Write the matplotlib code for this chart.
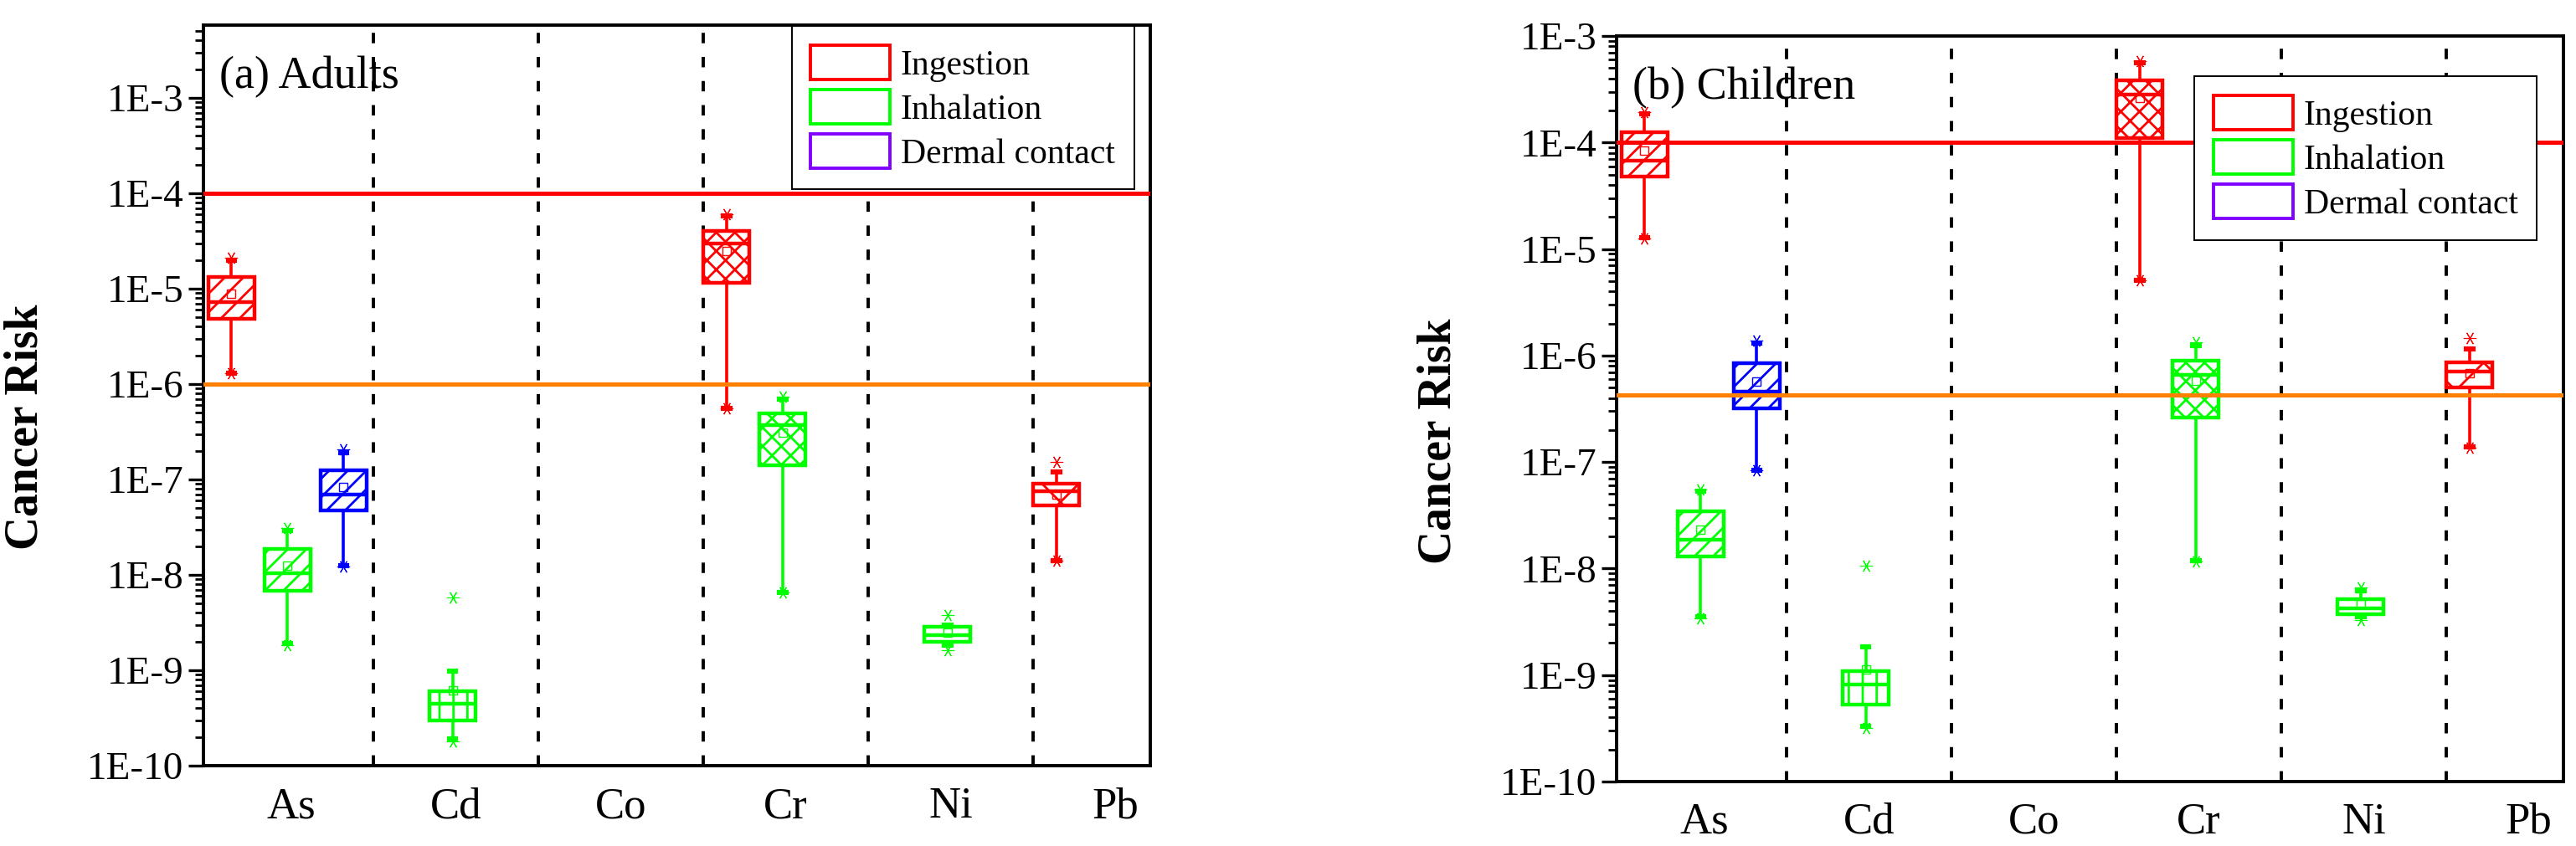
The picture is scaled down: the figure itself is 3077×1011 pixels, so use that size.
import numpy as np
import matplotlib
matplotlib.use("Agg")
import matplotlib.pyplot as plt
from matplotlib.patches import Patch
from matplotlib.ticker import LogLocator, FuncFormatter, NullFormatter

plt.rcParams['font.family'] = ['Liberation Serif', 'DejaVu Serif']
plt.rcParams['hatch.linewidth'] = 1.0

elements = ['As', 'Cd', 'Co', 'Cr', 'Ni', 'Pb']
hatches = {'As': '///', 'Cd': '||', 'Co': '', 'Cr': 'xxx', 'Ni': '', 'Pb': 'x'}
pathways = ['Ingestion', 'Inhalation', 'Dermal contact']

# (a) adults - ingestion
ad_ing_el = ['As', 'Cr', 'Pb']
ad_ing_lo = [1.31e-6, 5.6e-7, 1.42e-8]
ad_ing_q1 = [4.86e-6, 1.16e-5, 5.3e-8]
ad_ing_med = [7.3e-6, 2.95e-5, 7.6e-8]
ad_ing_mean = [8.8e-6, 2.5e-5, 6.9e-8]
ad_ing_q3 = [1.34e-5, 4.06e-5, 9.0e-8]
ad_ing_hi = [2.0e-5, 5.8e-5, 1.2e-7]
ad_ing_x = [[1.31e-6, 2.1e-5], [5.6e-7, 6.0e-5], [1.42e-8, 1.52e-7]]
# (a) adults - inhalation
ad_inh_el = ['As', 'Cd', 'Cr', 'Ni']
ad_inh_lo = [1.9e-9, 1.9e-10, 6.5e-9, 1.82e-9]
ad_inh_q1 = [6.8e-9, 2.95e-10, 1.42e-7, 2.0e-9]
ad_inh_med = [1.05e-8, 4.5e-10, 3.7e-7, 2.34e-9]
ad_inh_mean = [1.26e-8, 6.1e-10, 3.1e-7, 2.5e-9]
ad_inh_q3 = [1.88e-8, 6.0e-10, 4.95e-7, 2.88e-9]
ad_inh_hi = [2.9e-8, 9.9e-10, 7.0e-7, 2.95e-9]
ad_inh_x = [[1.85e-9, 3.1e-8], [1.78e-10, 5.8e-9], [6.5e-9, 7.4e-7], [1.64e-9, 3.8e-9]]
# (a) adults - dermal
ad_der_el = ['As']
ad_der_lo = [1.26e-8]
ad_der_q1 = [4.77e-8]
ad_der_med = [6.9e-8]
ad_der_mean = [8.4e-8]
ad_der_q3 = [1.25e-7]
ad_der_hi = [1.9e-7]
ad_der_x = [[1.22e-8, 2.05e-7]]

# (b) children - ingestion
ch_ing_el = ['As', 'Cr', 'Pb']
ch_ing_lo = [1.27e-5, 5.1e-6, 1.38e-7]
ch_ing_q1 = [4.76e-5, 1.1e-4, 5.06e-7]
ch_ing_med = [6.76e-5, 2.82e-4, 7.1e-7]
ch_ing_mean = [8.4e-5, 2.6e-4, 6.8e-7]
ch_ing_q3 = [1.26e-4, 3.8e-4, 8.7e-7]
ch_ing_hi = [1.85e-4, 5.6e-4, 1.15e-6]
ch_ing_x = [[1.25e-5, 1.94e-4], [5.1e-6, 5.8e-4], [1.36e-7, 1.47e-6]]
# (b) children - inhalation
ch_inh_el = ['As', 'Cd', 'Cr', 'Ni']
ch_inh_lo = [3.5e-9, 3.3e-10, 1.19e-8, 3.5e-9]
ch_inh_q1 = [1.31e-8, 5.3e-10, 2.6e-7, 3.7e-9]
ch_inh_med = [1.88e-8, 8.15e-10, 6.6e-7, 4.25e-9]
ch_inh_mean = [2.32e-8, 1.12e-9, 5.8e-7, 4.6e-9]
ch_inh_q3 = [3.46e-8, 1.08e-9, 8.9e-7, 5.2e-9]
ch_inh_hi = [5.3e-8, 1.83e-9, 1.25e-6, 6.2e-9]
ch_inh_x = [[3.4e-9, 5.5e-8], [3.2e-10, 1.07e-8], [1.17e-8, 1.34e-6], [3.3e-9, 6.6e-9]]
# (b) children - dermal
ch_der_el = ['As']
ch_der_lo = [8.4e-8]
ch_der_q1 = [3.2e-7]
ch_der_med = [4.55e-7]
ch_der_mean = [5.7e-7]
ch_der_q3 = [8.4e-7]
ch_der_hi = [1.3e-6]
ch_der_x = [[8.3e-8, 1.37e-6]]

# reference risk lines
ad_lines = [1e-4, 1.0e-6]
ch_lines = [1e-4, 4.25e-7]

# y tick decades
decades = [-10, -9, -8, -7, -6, -5, -4, -3]

box_colors = ['#ff0000', '#00ff00', '#0000ff']
legend_colors = ['#ff0000', '#00ff00', '#8000ff']
offsets = [-0.36, -0.02, 0.32]


def draw_boxes(ax, el, lo, q1, med, mean, q3, hi, xs, color, off):
    stats = [dict(whislo=a, q1=b, med=c, mean=d, q3=e, whishi=f, fliers=g)
             for a, b, c, d, e, f, g in zip(lo, q1, med, mean, q3, hi, xs)]
    pos = [elements.index(e) + 1 + off for e in el]
    bp = ax.bxp(stats, positions=pos, widths=0.28, patch_artist=True, showmeans=True,
                capwidths=0.04, manage_ticks=False,
                boxprops=dict(facecolor='white', edgecolor=color, linewidth=1.6),
                whiskerprops=dict(color=color, linewidth=1.3),
                capprops=dict(color=color, linewidth=2.2),
                medianprops=dict(color=color, linewidth=1.6),
                meanprops=dict(marker='s', markersize=3.5, markerfacecolor='none',
                               markeredgecolor=color, markeredgewidth=0.5),
                flierprops=dict(marker=(6, 2, 90), markersize=5.5, markeredgecolor=color,
                                markeredgewidth=0.4, linestyle='none'))
    for patch, e in zip(bp['boxes'], el):
        patch.set_hatch(hatches[e])


def style_panel(ax, ylim, lines, tag, leg_anchor):
    ax.set_yscale('log')
    ax.set_ylim(*ylim)
    ax.set_xlim(0.47, 6.21)
    for k in range(1, 6):
        ax.axvline(k + 0.5, color='black', linewidth=1.4, linestyle=(0, (3.2, 4.2)), zorder=1)
    ax.axhline(lines[0], color='#ff0000', linewidth=1.8, zorder=3)
    ax.axhline(lines[1], color='#ff8000', linewidth=1.8, zorder=3)

    ax.set_xticks(range(1, 7))
    ax.set_xticklabels(elements, fontsize=19)
    ax.tick_params(axis='x', length=0, pad=9)
    ax.set_yticks([10.0 ** d for d in decades])
    ax.yaxis.set_minor_locator(LogLocator(base=10, subs=np.arange(2, 10), numticks=20))
    ax.yaxis.set_major_formatter(FuncFormatter(lambda v, p: '1E%d' % round(np.log10(v))))
    ax.yaxis.set_minor_formatter(NullFormatter())
    ax.set_ylim(*ylim)
    ax.tick_params(axis='y', which='major', direction='out', length=6.5, width=1.2,
                   labelsize=17, pad=2)
    ax.tick_params(axis='y', which='minor', direction='out', length=3.6, width=1.0)
    for s in ax.spines.values():
        s.set_linewidth(1.4)

    ax.set_ylabel('Cancer Risk', fontsize=20, fontweight='bold')
    ax.yaxis.set_label_coords(-0.165, 0.457)
    ax.text(0.0165, 0.93, tag, transform=ax.transAxes, fontsize=19.5, va='center', ha='left')

    handles = [Patch(facecolor='white', edgecolor=c, linewidth=1.4, label=l)
               for c, l in zip(legend_colors, pathways)]
    leg = ax.legend(handles=handles, loc='upper right', bbox_to_anchor=leg_anchor,
                    borderaxespad=0, fontsize=15, handlelength=2.28, handleheight=1.15,
                    handletextpad=0.3, borderpad=0.55, labelspacing=0.22,
                    fancybox=False, framealpha=1, edgecolor='black')
    leg.get_frame().set_linewidth(0.7)
    leg.set_zorder(10)


fig = plt.figure(figsize=(3077 / 200, 1011 / 200), dpi=200)
ax1 = fig.add_axes([243 / 3077, 1 - 915 / 1011, 1131 / 3077, 885 / 1011])
ax2 = fig.add_axes([1931 / 3077, 1 - 934 / 1011, 1131 / 3077, 891 / 1011])

draw_boxes(ax1, ad_ing_el, ad_ing_lo, ad_ing_q1, ad_ing_med, ad_ing_mean, ad_ing_q3, ad_ing_hi, ad_ing_x, box_colors[0], offsets[0])
draw_boxes(ax1, ad_inh_el, ad_inh_lo, ad_inh_q1, ad_inh_med, ad_inh_mean, ad_inh_q3, ad_inh_hi, ad_inh_x, box_colors[1], offsets[1])
draw_boxes(ax1, ad_der_el, ad_der_lo, ad_der_q1, ad_der_med, ad_der_mean, ad_der_q3, ad_der_hi, ad_der_x, box_colors[2], offsets[2])
style_panel(ax1, (1e-10, 5.8e-3), ad_lines, '(a) Adults', (0.983, 0.999))

draw_boxes(ax2, ch_ing_el, ch_ing_lo, ch_ing_q1, ch_ing_med, ch_ing_mean, ch_ing_q3, ch_ing_hi, ch_ing_x, box_colors[0], offsets[0])
draw_boxes(ax2, ch_inh_el, ch_inh_lo, ch_inh_q1, ch_inh_med, ch_inh_mean, ch_inh_q3, ch_inh_hi, ch_inh_x, box_colors[1], offsets[1])
draw_boxes(ax2, ch_der_el, ch_der_lo, ch_der_q1, ch_der_med, ch_der_mean, ch_der_q3, ch_der_hi, ch_der_x, box_colors[2], offsets[2])
style_panel(ax2, (1e-10, 1e-3), ch_lines, '(b) Children', (0.972, 0.946))

fig.savefig('out.png', dpi=200)
